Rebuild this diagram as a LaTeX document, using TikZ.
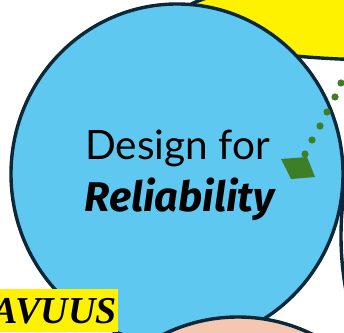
\documentclass[tikz,border=0pt]{standalone}
\usepackage{fontspec}
\setmainfont{Liberation Serif}
\newfontfamily\bubblefont{Lato}
\newfontfamily\bubblebold{Fira Sans}
\definecolor{skyblue}{RGB}{94,200,240}
\definecolor{rimnavy}{RGB}{10,40,56}
\definecolor{peach}{RGB}{245,198,176}
\definecolor{leafgreen}{RGB}{62,126,38}
\tikzset{
  bubble/.style={draw=rimnavy, line width=3.4pt},
  bubbletext/.style={font=\bubblefont\fontsize{40.5}{47}\selectfont, inner sep=0pt, anchor=base}
}
\begin{document}
\begin{tikzpicture}[x=1pt,y=1pt]
  \useasboundingbox (0,0) rectangle (344,332);
  \clip (0,0) rectangle (344,332);

  % bubbles behind
  \filldraw [bubble, fill=yellow] (385,313) ellipse [x radius=208, y radius=41];
  \filldraw [bubble, fill=white] (641,96) circle (300);

  % main bubble
  \filldraw [bubble, fill=skyblue] (177,158) ellipse [x radius=166, y radius=170];
  \node [bubbletext] (design) at (177.5,172) {Design for};
  \node [bubbletext, font=\bubblebold\fontsize{41.5}{47}\selectfont\bfseries\itshape] (reliab) at (179.5,121) {Reliability};

  % dotted link
  \foreach \x/\y in {341/83,335/97,327/112,320/126,312/140,305/154}
    \fill [leafgreen] (\x,332-\y) circle (3.6);
  \fill [leafgreen] (281,173) -- (307,175) -- (315,155) -- (291,153) -- cycle;

  % peach bubble
  \filldraw [bubble, fill=peach] (238,-153) circle (168);

  % label
  \fill [yellow] (-5,0) rectangle (118,43);
  \node [font=\fontsize{38}{44}\selectfont\bfseries\itshape, inner sep=0pt, anchor=base east] (tag) at (117,9) {AVUUS};
\end{tikzpicture}
\end{document}
